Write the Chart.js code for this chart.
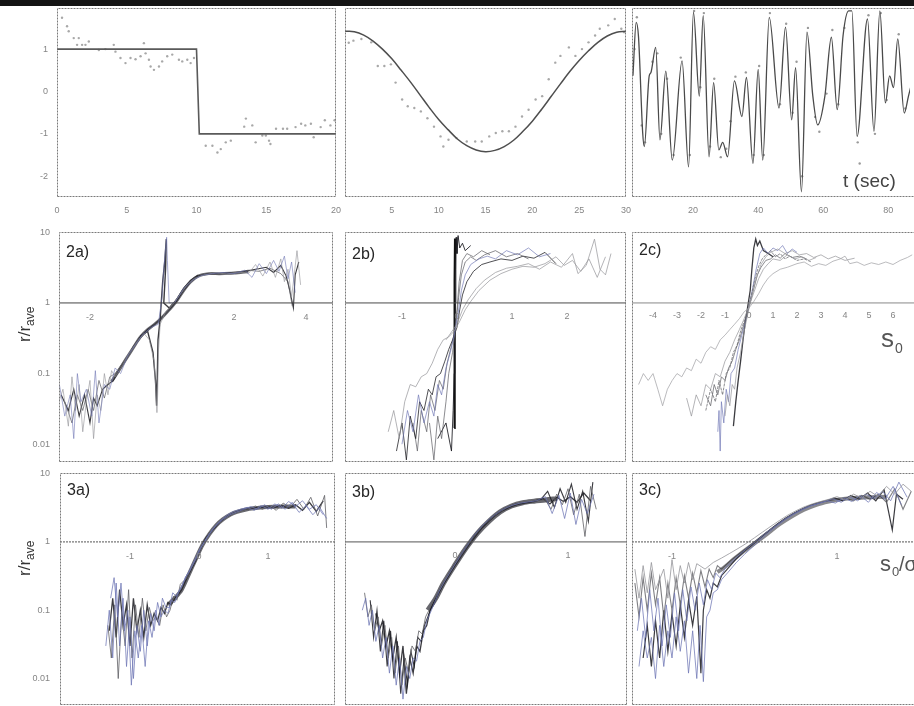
<!DOCTYPE html>
<html><head><meta charset="utf-8">
<script src="https://cdn.jsdelivr.net/npm/chart.js@4.4.1/dist/chart.umd.min.js"></script>
<style>
body{margin:0;background:#fff;width:914px;height:706px;overflow:hidden;position:relative;font-family:"Liberation Sans",Arial,sans-serif}
canvas{position:absolute;left:0;top:0}
#bar{position:absolute;left:0;top:0;width:914px;height:6px;background:#141414}
</style></head><body>
<div id="bar"></div>
<canvas id="c1a" width="914" height="706"></canvas>
<canvas id="c1b" width="914" height="706"></canvas>
<canvas id="c1c" width="914" height="706"></canvas>
<canvas id="c2a" width="914" height="706"></canvas>
<canvas id="c2b" width="914" height="706"></canvas>
<canvas id="c2c" width="914" height="706"></canvas>
<canvas id="c3a" width="914" height="706"></canvas>
<canvas id="c3b" width="914" height="706"></canvas>
<canvas id="c3c" width="914" height="706"></canvas>
<script>
// ---------- tick labels ----------
const row1YTicks = [1, 0, -1, -2];
const p1aXTicks = [0, 5, 10, 15, 20];
const p1bXTicks = [5, 10, 15, 20, 25, 30];
const p1cXTicks = [20, 40, 60, 80];
const logTickVals = [10, 1, 0.1, 0.01];
const logTickLabels = ["10", "1", "0.1", "0.01"];
const p2aXTicks = [-2, 2, 4];
const p2bXTicks = [-1, 0, 1, 2];
const p2cXTicks = [-4, -3, -2, -1, 0, 1, 2, 3, 4, 5, 6];
const p3aXTicks = [-1, 0, 1];
const p3bXTicks = [0, 1];
const p3cXTicks = [-1, 1];

// ---------- row 1 ----------
const stepLine = [[0,1],[10,1],[10.2,-1],[20,-1]];
const stepDots = [[0.36,1.74],[0.72,1.54],[0.84,1.42],[1.2,1.26],[1.44,1.10],[1.56,1.26],[1.8,1.10],[2.04,1.10],[2.28,1.18],[3.0,0.98],[3.47,1.0],[4.07,1.10],[4.19,0.94],[4.55,0.79],[4.91,0.67],[5.27,0.79],[5.63,0.76],[5.99,0.83],[6.23,1.14],[6.35,0.90],[6.59,0.75],[6.71,0.59],[6.95,0.51],[7.31,0.59],[7.54,0.71],[7.9,0.83],[8.26,0.87],[8.74,0.75],[8.98,0.71],[9.34,0.75],[9.58,0.67],[9.82,0.79],
 [10.66,-1.28],[11.14,-1.28],[11.5,-1.44],[11.74,-1.36],[12.1,-1.2],[12.46,-1.16],[13.42,-0.83],[13.54,-0.64],[14.0,-0.80],[14.24,-1.2],[14.72,-1.04],[14.97,-1.04],[15.2,-1.16],[15.3,-1.24],[15.7,-0.88],[16.2,-0.88],[16.5,-0.88],[17.1,-0.84],[17.5,-0.76],[17.8,-0.80],[18.2,-0.76],[18.4,-1.08],[18.9,-0.84],[19.2,-0.68],[19.6,-0.80],[19.9,-0.68]];
const cosLine = [[0,1.42],[1,1.41],[2,1.33],[3,1.19],[4,1.0],[5,0.77],[6,0.5],[7,0.22],[8,-0.08],[9,-0.38],[10,-0.66],[11,-0.9],[12,-1.12],[13,-1.28],[14,-1.38],[15,-1.42],[16,-1.39],[17,-1.3],[18,-1.15],[19,-0.94],[20,-0.7],[21,-0.42],[22,-0.12],[23,0.18],[24,0.47],[25,0.73],[26,0.96],[27,1.16],[28,1.31],[29,1.4],[30,1.42]];
const cosDots = [[0.4,1.15],[0.9,1.2],[1.75,1.24],[2.8,1.16],[3.5,0.6],[4.2,0.6],[4.9,0.64],[5.4,0.21],[6.1,-0.19],[6.7,-0.35],[7.4,-0.39],[8.1,-0.47],[8.8,-0.63],[9.5,-0.83],[10.2,-1.06],[10.5,-1.3],[11.05,-1.14],[11.9,-1.1],[13,-1.18],[13.9,-1.18],[14.6,-1.18],[15.4,-1.06],[16.1,-0.98],[16.8,-0.94],[17.5,-0.94],[18.2,-0.83],[18.9,-0.59],[19.6,-0.43],[20.35,-0.19],[21.05,-0.11],[21.75,0.29],[22.45,0.68],[23,0.84],[23.9,1.04],[24.6,0.84],[25.3,1.0],[26,1.16],[26.7,1.32],[27.2,1.48],[28.1,1.56],[28.8,1.71],[29.5,1.48],[29.8,1.4]];
const sigLine = [[1.5,0.37],[2.5,1.63],[3.2,1.3],[4.5,-0.98],[5.0,-1.30],[6.5,0.37],[7.0,0.44],[8.5,1.04],[9.8,-1.14],[11.6,0.48],[13.6,-1.62],[16.6,0.72],[18.6,-1.78],[20.1,1.87],[21.9,-0.11],[23.1,1.79],[24.9,-1.54],[26.3,0.21],[27.9,-1.38],[29.1,-1.20],[30.6,-1.54],[32.7,0.25],[35.0,-0.59],[36.4,0.33],[38.4,-1.70],[40.0,0.52],[41.4,-1.62],[43.4,1.75],[46.4,-0.39],[48.4,1.52],[50.3,-0.67],[51.5,0.56],[53.3,-2.37],[55.0,1.40],[56.8,-0.11],[58.3,-0.79],[60.5,-0.11],[62.5,1.28],[64.3,-0.43],[66.1,1.32],[67.8,1.9],[68.8,1.9],[70.4,-1.06],[73.6,1.71],[75.6,-0.94],[77.4,1.9],[79.1,-0.27],[80.4,0.37],[81.6,0.09],[82.9,1.24],[84.9,-0.51],[86.2,-0.11],[87.5,0.3]];
const sigDots = [[2,1.0],[2.7,1.75],[4.2,-0.8],[5.2,-1.2],[7.5,0.7],[9,0.9],[10.2,-1.0],[12,0.3],[14,-1.5],[16.2,0.8],[19,-1.5],[20.3,1.9],[22.2,0.1],[23.3,1.85],[25.2,-1.3],[26.5,0.3],[28.5,-1.55],[30.2,-1.35],[31.5,-0.7],[33,0.35],[36.2,0.45],[38.6,-1.5],[40.3,0.6],[41.7,-1.5],[43.6,1.85],[46.7,-0.3],[48.6,1.6],[50.6,-0.5],[51.8,0.7],[53.5,-2.0],[55.3,1.5],[57.5,-0.6],[58.8,-0.95],[61,-0.05],[62.8,1.45],[64.6,-0.3],[66.5,1.5],[70.6,-1.2],[71.2,-1.7],[73.9,1.8],[75.9,-1.0],[77.7,1.85],[79.5,-0.2],[83.2,1.35],[85.2,-0.4]];

// ---------- row 2a ----------
const a2core = [[-1.4,0.077],[-1.2,0.11],[-1.0,0.16],[-0.8,0.23],[-0.6,0.33],[-0.4,0.42],[-0.2,0.5],[0,0.62],[0.2,0.8],[0.4,1.05],[0.6,1.5],[0.8,2.0],[1.0,2.4],[1.3,2.6],[1.6,2.6],[2.0,2.65],[2.4,2.8]];
const a2s1 = [[-2.8,0.05],[-2.6,0.03],[-2.45,0.06],[-2.3,0.025],[-2.15,0.05],[-2.0,0.02],[-1.9,0.045],[-1.8,0.035],[-1.65,0.06],[-1.5,0.07],[-1.35,0.08],[-1.2,0.11],[-1.0,0.16],[-0.8,0.24],[-0.6,0.33],[-0.4,0.42],[-0.2,0.5],[0,0.62],[0.2,0.8],[0.4,1.05],[0.6,1.5],[0.8,2.0],[1.0,2.4],[1.3,2.6],[1.6,2.6],[2.0,2.7],[2.3,2.8],[2.6,3.0],[2.9,3.2],[3.1,2.7],[3.3,3.4],[3.45,2.4],[3.55,1.5],[3.65,0.85],[3.7,2.5],[3.8,3.8]];
const a2s2 = [[-2.9,0.035],[-2.75,0.06],[-2.6,0.018],[-2.5,0.09],[-2.4,0.03],[-2.3,0.07],[-2.2,0.015],[-2.1,0.04],[-2.0,0.08],[-1.9,0.012],[-1.8,0.05],[-1.7,0.03],[-1.6,0.1],[-1.5,0.05],[-1.4,0.11],[-1.3,0.09],[-1.1,0.13],[-0.9,0.2],[-0.7,0.28],[-0.5,0.37],[-0.35,0.3],[-0.22,0.15],[-0.17,0.06],[-0.14,0.028],[-0.12,0.05],[-0.1,0.2],[-0.05,0.5],[0.1,0.75],[0.3,0.95],[0.5,1.3],[0.7,1.8],[0.9,2.2],[1.2,2.5],[1.5,2.7],[1.8,2.55],[2.1,2.75],[2.4,2.6],[2.6,3.5],[2.8,2.4],[3.0,3.8],[3.15,2.3],[3.3,4.2],[3.4,2.0],[3.5,3.0],[3.6,1.2],[3.75,5.5],[3.85,1.8]];
const a2s3 = [[-2.85,0.07],[-2.7,0.025],[-2.55,0.05],[-2.45,0.012],[-2.35,0.1],[-2.25,0.04],[-2.1,0.06],[-1.95,0.025],[-1.85,0.11],[-1.75,0.02],[-1.6,0.07],[-1.45,0.06],[-1.3,0.12],[-1.15,0.1],[-0.95,0.18],[-0.75,0.25],[-0.55,0.35],[-0.3,0.45],[-0.1,0.5],[0,1.2],[0.05,3],[0.1,6],[0.13,8.5],[0.15,4],[0.2,1],[0.35,1.0],[0.6,1.6],[0.85,2.1],[1.1,2.45],[1.4,2.6],[1.7,2.7],[2.0,2.6],[2.3,2.9],[2.5,2.3],[2.7,3.6],[2.9,2.6],[3.1,4.0],[3.25,2.8],[3.4,4.6],[3.5,2.2],[3.6,3.8],[3.7,1.4]];
const a2s4 = [[-0.6,0.34],[-0.4,0.4],[-0.25,0.2],[-0.18,0.08],[-0.15,0.035],[-0.13,0.09],[-0.11,0.3],[-0.05,0.6],[0.02,2],[0.08,4],[0.12,8],[0.1,3],[0.05,1.0],[0.2,0.85],[0.4,1.1],[0.6,1.6],[0.8,2.1],[1.0,2.45]];
const a2s5 = [[-2.7,0.04],[-2.5,0.02],[-2.35,0.05],[-2.2,0.03],[-2.05,0.06],[-1.9,0.03],[-1.75,0.08],[-1.6,0.045],[-1.45,0.09],[-1.3,0.1],[-1.1,0.14],[-0.9,0.19],[-0.7,0.27],[-0.5,0.36],[-0.3,0.44],[-0.1,0.55],[0.1,0.7],[0.3,0.95],[0.5,1.35],[0.7,1.85],[0.9,2.25],[1.2,2.55],[1.6,2.6],[2.0,2.6],[2.4,2.9],[2.7,2.8],[3.0,3.1],[3.3,2.6],[3.5,2.0],[3.62,0.9]];

// ---------- row 2b ----------
const b2s1 = [[-1.25,0.015],[-1.15,0.03],[-1.05,0.012],[-0.95,0.04],[-0.85,0.07],[-0.75,0.065],[-0.65,0.09],[-0.55,0.1],[-0.45,0.14],[-0.35,0.22],[-0.25,0.3],[-0.15,0.33],[-0.05,0.4],[0.05,0.55],[0.15,0.8],[0.25,1.05],[0.4,1.5],[0.6,2.1],[0.8,2.6],[1.0,3.0],[1.2,3.3],[1.4,3.2],[1.6,3.6],[1.8,4.5],[1.95,3.4],[2.1,4.0],[2.25,2.8],[2.4,4.2],[2.55,2.3],[2.7,4.5]];
const b2s2 = [[-1.1,0.008],[-1.0,0.02],[-0.92,0.006],[-0.85,0.025],[-0.75,0.012],[-0.68,0.04],[-0.6,0.03],[-0.52,0.06],[-0.45,0.05],[-0.38,0.09],[-0.3,0.1],[-0.22,0.15],[-0.15,0.22],[-0.08,0.3],[0,0.45],[0.05,0.8],[0.1,1.3],[0.18,2.0],[0.3,2.8],[0.45,3.5],[0.6,3.8],[0.8,4.2],[1.0,4.0],[1.2,4.6],[1.4,4.3],[1.6,5.2],[1.8,3.6]];
const b2s3 = [[-1.0,0.01],[-0.9,0.03],[-0.8,0.015],[-0.7,0.05],[-0.6,0.02],[-0.5,0.04],[-0.42,0.025],[-0.35,0.07],[-0.28,0.05],[-0.2,0.12],[-0.12,0.2],[-0.05,0.35],[0.02,0.7],[0.08,1.5],[0.15,2.5],[0.25,3.5],[0.4,4.2],[0.55,4.6],[0.7,4.2],[0.9,5.5],[1.1,4.8],[1.3,6.0],[1.5,4.5],[1.7,5.0]];
const b2s4 = [[-0.8,0.02],[-0.72,0.008],[-0.65,0.03],[-0.55,0.015],[-0.48,0.05],[-0.4,0.03],[-0.32,0.08],[-0.25,0.06],[-0.18,0.14],[-0.1,0.25],[-0.04,0.4],[0,0.8],[0.04,2.0],[0.1,4.0],[0.18,5.0],[0.3,4.5],[0.45,5.5],[0.6,4.8]];
const b2s5 = [[-0.35,0.012],[-0.2,0.02],[-0.1,0.008],[-0.07,0.03],[-0.05,0.1],[-0.04,0.3],[-0.03,1.0],[-0.02,3.0],[-0.015,8.5],[0,5],[0.02,9],[0.05,6],[0.1,7],[0.15,5.5],[0.25,6.5]];
const b2s6 = [[-0.5,0.02],[-0.42,0.006],[-0.35,0.025],[-0.28,0.012],[-0.2,0.04],[-0.15,0.1],[-0.08,0.2],[-0.02,0.5],[0.03,1.2],[0.08,2.5],[0.15,3.8],[0.25,4.5],[0.35,4.0],[0.5,4.8],[0.7,5.5],[0.9,4.5],[1.1,5.0],[1.3,4.2]];
const b2s7 = [[-0.2,0.3],[0,0.5],[0.1,0.8],[0.2,1.1],[0.35,1.6],[0.5,2.1],[0.7,2.7],[0.9,3.1],[1.1,3.3],[1.3,3.6],[1.5,3.0],[1.7,3.8],[1.9,3.2],[2.1,5.0],[2.2,2.6],[2.35,3.4],[2.5,8.0],[2.6,3.0],[2.7,2.5],[2.8,5.0]];
const b2s8 = [[-0.05,0.017],[-0.045,0.3],[-0.04,2],[-0.035,8.2]];

// ---------- row 2c ----------
const c2s1 = [[-4.6,0.07],[-4.4,0.1],[-4.2,0.08],[-4.0,0.1],[-3.8,0.06],[-3.6,0.035],[-3.4,0.06],[-3.2,0.08],[-3.0,0.1],[-2.8,0.09],[-2.6,0.12],[-2.4,0.11],[-2.2,0.16],[-2.0,0.14],[-1.8,0.2],[-1.6,0.24],[-1.4,0.22],[-1.2,0.3],[-1.0,0.35],[-0.8,0.42],[-0.6,0.5],[-0.4,0.6],[-0.2,0.75],[0,0.85],[0.2,1.05],[0.4,1.35],[0.6,1.8],[0.8,2.25],[1.0,2.6],[1.3,3.0],[1.6,3.2],[2.0,3.6],[2.3,3.8],[2.6,3.3],[2.9,3.6],[3.2,3.4],[3.5,3.9],[3.8,4.2],[4.0,4.6],[4.2,3.6],[4.5,3.8],[4.8,3.4],[5.1,3.7],[5.4,3.5],[5.7,3.8],[6.0,3.5],[6.3,4.0],[6.6,4.4],[6.8,4.8]];
const c2s2 = [[-2.6,0.045],[-2.4,0.025],[-2.2,0.05],[-2.0,0.035],[-1.8,0.07],[-1.6,0.06],[-1.4,0.1],[-1.2,0.09],[-1.0,0.15],[-0.8,0.2],[-0.6,0.3],[-0.4,0.42],[-0.2,0.6],[0,0.9],[0.2,1.4],[0.4,2.2],[0.6,3.0],[0.8,3.6],[1.0,4.2],[1.3,4.0],[1.6,4.8],[1.9,4.2],[2.2,4.5],[2.5,4.0],[2.8,4.4]];
const c2s3 = [[-1.8,0.03],[-1.6,0.06],[-1.4,0.04],[-1.25,0.08],[-1.1,0.05],[-0.95,0.1],[-0.8,0.12],[-0.65,0.2],[-0.5,0.25],[-0.35,0.4],[-0.2,0.55],[-0.05,0.8],[0.1,1.3],[0.25,2.2],[0.4,3.3],[0.55,4.2],[0.7,4.8],[0.9,5.5],[1.1,4.5],[1.3,5.0],[1.5,4.2],[1.7,4.6],[2.0,4.0],[2.3,4.2],[2.6,3.8]];
const c2s4 = [[-1.3,0.015],[-1.25,0.03],[-1.2,0.008],[-1.15,0.04],[-1.05,0.02],[-0.95,0.06],[-0.85,0.04],[-0.75,0.1],[-0.6,0.12],[-0.45,0.22],[-0.3,0.35],[-0.15,0.55],[0,0.9],[0.15,1.6],[0.3,3.0],[0.45,5.0],[0.6,6.0],[0.8,5.0],[1.0,6.0],[1.2,5.5],[1.4,6.5],[1.6,5.0],[1.8,5.8],[2.0,5.2]];
const c2s5 = [[-0.65,0.018],[-0.55,0.04],[-0.45,0.08],[-0.35,0.15],[-0.25,0.3],[-0.15,0.55],[-0.05,0.9],[0.05,1.5],[0.12,3.0],[0.2,6.0],[0.28,8.0],[0.35,6.5],[0.45,7.5],[0.6,5.5],[0.8,5.0],[1.0,4.5]];
const c2s6 = [[-1.0,0.025],[-0.9,0.05],[-0.8,0.035],[-0.7,0.07],[-0.6,0.06],[-0.5,0.12],[-0.35,0.2],[-0.2,0.4],[-0.05,0.7],[0.1,1.2],[0.3,2.2],[0.5,3.5],[0.7,4.5],[0.9,5.2],[1.2,5.8],[1.5,5.0],[1.8,5.5],[2.1,4.8],[2.4,5.0],[2.7,4.4],[3.0,4.8],[3.3,4.2],[3.6,4.6],[4.0,4.0],[4.4,4.3]];
const c2s7 = [[-1.8,0.05],[-1.6,0.035],[-1.45,0.07],[-1.3,0.05],[-1.15,0.09],[-1.0,0.08],[-0.85,0.12],[-0.7,0.15],[-0.55,0.22],[-0.4,0.3],[-0.25,0.45],[-0.1,0.65],[0.05,1.0],[0.2,1.6],[0.35,2.5],[0.5,3.2],[0.7,4.0],[0.9,4.2],[1.1,4.8],[1.3,4.3],[1.5,5.0],[1.8,4.4],[2.1,4.6],[2.4,4.2]];

// ---------- row 3a ----------
const a3core = [[-0.45,0.12],[-0.35,0.15],[-0.25,0.2],[-0.15,0.33],[-0.05,0.55],[0.05,0.9],[0.15,1.3],[0.25,1.75],[0.35,2.15],[0.45,2.5],[0.55,2.75],[0.7,3.0],[0.85,3.15],[1.0,3.25],[1.2,3.3],[1.4,3.3]];
const a3s1 = [[-1.3,0.05],[-1.25,0.15],[-1.2,0.04],[-1.15,0.2],[-1.1,0.06],[-1.05,0.12],[-1.0,0.03],[-0.95,0.15],[-0.9,0.05],[-0.85,0.1],[-0.8,0.04],[-0.75,0.12],[-0.7,0.06],[-0.65,0.09],[-0.6,0.07],[-0.55,0.11],[-0.5,0.09],[-0.45,0.13],[-0.4,0.12],[-0.35,0.15],[-0.3,0.17],[-0.25,0.2],[-0.2,0.26],[-0.15,0.33],[-0.1,0.42],[-0.05,0.52],[0,0.7],[0.05,0.9],[0.1,1.15],[0.2,1.5],[0.3,1.95],[0.4,2.35],[0.5,2.65],[0.6,2.9],[0.7,3.05],[0.8,3.15],[0.9,3.2],[1.0,3.25],[1.1,3.2],[1.2,3.4],[1.3,3.1],[1.4,3.5],[1.5,2.9],[1.6,3.8],[1.7,2.8],[1.8,4.0]];
const a3s2 = [[-1.35,0.03],[-1.3,0.1],[-1.25,0.02],[-1.2,0.25],[-1.15,0.03],[-1.1,0.15],[-1.05,0.015],[-1.0,0.08],[-0.95,0.01],[-0.9,0.06],[-0.85,0.025],[-0.8,0.1],[-0.75,0.03],[-0.7,0.09],[-0.65,0.05],[-0.6,0.13],[-0.55,0.08],[-0.5,0.1],[-0.45,0.09],[-0.4,0.14],[-0.35,0.13],[-0.3,0.18],[-0.25,0.22],[-0.2,0.3],[-0.15,0.36],[-0.1,0.46],[-0.05,0.58],[0,0.75],[0.08,1.0],[0.15,1.3],[0.25,1.75],[0.35,2.15],[0.45,2.5],[0.55,2.75],[0.65,3.0],[0.75,3.3],[0.85,3.0],[0.95,3.5],[1.05,3.0],[1.15,3.6],[1.25,3.0],[1.35,3.8],[1.45,2.7],[1.55,3.4],[1.65,2.5],[1.75,3.2],[1.85,2.2]];
const a3s3 = [[-1.32,0.06],[-1.27,0.02],[-1.22,0.12],[-1.17,0.01],[-1.12,0.09],[-1.07,0.03],[-1.02,0.2],[-0.97,0.02],[-0.92,0.12],[-0.87,0.04],[-0.82,0.15],[-0.77,0.05],[-0.72,0.11],[-0.67,0.07],[-0.62,0.08],[-0.57,0.06],[-0.52,0.12],[-0.47,0.08],[-0.42,0.1],[-0.37,0.16],[-0.32,0.14],[-0.27,0.24],[-0.22,0.27],[-0.17,0.3],[-0.12,0.4],[-0.07,0.5],[-0.02,0.62],[0.04,0.85],[0.12,1.2],[0.22,1.65],[0.32,2.1],[0.42,2.4],[0.52,2.7],[0.62,2.85],[0.72,3.1],[0.82,3.35],[0.92,3.0],[1.02,3.4],[1.12,2.9],[1.22,3.7],[1.32,3.2],[1.42,4.2],[1.52,3.0],[1.62,4.5],[1.72,2.4],[1.82,4.8],[1.85,1.6]];
const a3s4 = [[-1.28,0.15],[-1.23,0.3],[-1.18,0.08],[-1.13,0.25],[-1.08,0.05],[-1.03,0.1],[-0.98,0.008],[-0.93,0.05],[-0.88,0.02],[-0.83,0.06],[-0.78,0.015],[-0.73,0.07],[-0.68,0.04],[-0.63,0.1],[-0.58,0.06],[-0.53,0.15],[-0.48,0.11],[-0.43,0.11],[-0.38,0.18],[-0.33,0.16],[-0.28,0.2],[-0.23,0.25],[-0.18,0.32],[-0.13,0.38],[-0.08,0.48],[-0.03,0.6],[0.02,0.8],[0.1,1.1],[0.2,1.55],[0.3,2.0],[0.4,2.45],[0.5,2.8],[0.6,3.0],[0.7,3.2],[0.8,2.9],[0.9,3.4],[1.0,3.0],[1.1,3.6],[1.2,3.1],[1.3,3.9],[1.4,3.3],[1.5,4.0],[1.6,3.0],[1.7,3.5],[1.8,2.5]];

// ---------- row 3b ----------
const b3core = [[-0.24,0.1],[-0.17,0.15],[-0.1,0.25],[0,0.46],[0.1,0.82],[0.2,1.35],[0.3,2.0],[0.4,2.75],[0.5,3.35],[0.6,3.75],[0.7,3.95],[0.8,4.1],[0.9,4.3]];
const b3s1 = [[-0.8,0.18],[-0.77,0.08],[-0.74,0.12],[-0.71,0.05],[-0.68,0.08],[-0.65,0.03],[-0.62,0.06],[-0.59,0.02],[-0.56,0.04],[-0.53,0.012],[-0.5,0.03],[-0.47,0.008],[-0.44,0.02],[-0.41,0.012],[-0.38,0.03],[-0.35,0.025],[-0.32,0.05],[-0.29,0.045],[-0.26,0.08],[-0.23,0.1],[-0.2,0.13],[-0.15,0.18],[-0.1,0.25],[-0.05,0.34],[0,0.47],[0.05,0.62],[0.1,0.82],[0.15,1.1],[0.2,1.4],[0.25,1.75],[0.3,2.05],[0.35,2.4],[0.4,2.75],[0.45,3.1],[0.5,3.4],[0.55,3.6],[0.6,3.8],[0.7,4.0],[0.8,4.1],[0.85,3.0],[0.9,5.0],[0.95,3.5],[1.0,6.0],[1.05,2.5],[1.1,5.0],[1.15,1.2],[1.2,6.5],[1.25,3.0]];
const b3s2 = [[-0.75,0.14],[-0.72,0.04],[-0.69,0.1],[-0.66,0.025],[-0.63,0.07],[-0.6,0.015],[-0.57,0.05],[-0.54,0.01],[-0.51,0.035],[-0.48,0.006],[-0.45,0.02],[-0.42,0.008],[-0.39,0.025],[-0.36,0.015],[-0.33,0.04],[-0.3,0.035],[-0.27,0.06],[-0.24,0.08],[-0.21,0.11],[-0.17,0.15],[-0.12,0.22],[-0.07,0.3],[-0.02,0.42],[0.03,0.56],[0.08,0.75],[0.13,1.0],[0.18,1.3],[0.23,1.6],[0.28,1.95],[0.33,2.3],[0.38,2.65],[0.43,3.0],[0.48,3.3],[0.53,3.55],[0.6,3.75],[0.68,3.9],[0.76,4.2],[0.82,5.5],[0.88,3.2],[0.93,6.0],[0.98,3.8],[1.03,7.0],[1.08,3.0],[1.13,5.5],[1.18,2.0],[1.22,7.5]];
const b3s3 = [[-0.82,0.1],[-0.79,0.15],[-0.76,0.06],[-0.73,0.1],[-0.7,0.035],[-0.67,0.06],[-0.64,0.02],[-0.61,0.04],[-0.58,0.012],[-0.55,0.03],[-0.52,0.008],[-0.49,0.02],[-0.46,0.005],[-0.43,0.015],[-0.4,0.01],[-0.37,0.02],[-0.34,0.018],[-0.31,0.035],[-0.28,0.04],[-0.25,0.07],[-0.22,0.09],[-0.18,0.13],[-0.14,0.19],[-0.09,0.27],[-0.04,0.37],[0.01,0.5],[0.06,0.68],[0.11,0.9],[0.16,1.2],[0.21,1.5],[0.26,1.85],[0.31,2.2],[0.36,2.55],[0.41,2.9],[0.46,3.2],[0.52,3.5],[0.58,3.7],[0.65,3.85],[0.72,4.0],[0.8,4.6],[0.86,2.6],[0.92,4.8],[0.97,2.2],[1.02,5.2],[1.07,1.8],[1.12,4.2],[1.17,2.6],[1.23,5.0]];
const b3s4 = [[-0.7,0.09],[-0.67,0.05],[-0.64,0.07],[-0.61,0.03],[-0.58,0.05],[-0.55,0.02],[-0.52,0.04],[-0.49,0.012],[-0.46,0.03],[-0.43,0.006],[-0.4,0.02],[-0.37,0.012],[-0.34,0.03],[-0.31,0.025],[-0.28,0.05],[-0.25,0.06],[-0.22,0.1],[-0.19,0.12],[-0.15,0.17],[-0.1,0.24],[-0.05,0.33],[0,0.45],[0.06,0.63],[0.12,0.88],[0.18,1.2],[0.24,1.6],[0.3,2.0],[0.36,2.45],[0.42,2.85],[0.48,3.2],[0.55,3.5],[0.62,3.7],[0.7,3.9],[0.78,4.3],[0.84,3.6],[0.9,4.5],[0.96,3.9],[1.02,4.6],[1.08,3.8],[1.14,5.2],[1.2,4.0]];

// ---------- row 3c ----------
const c3core = [[-0.45,0.36],[-0.35,0.44],[-0.25,0.56],[-0.15,0.7],[0,0.95],[0.15,1.3],[0.3,1.8],[0.45,2.35],[0.6,2.95],[0.75,3.5],[0.9,3.9],[1.05,4.2],[1.2,4.4],[1.4,4.5],[1.6,4.6]];
const c3s1 = [[-1.45,0.25],[-1.4,0.08],[-1.35,0.3],[-1.3,0.1],[-1.25,0.35],[-1.2,0.12],[-1.15,0.3],[-1.1,0.08],[-1.05,0.25],[-1.0,0.1],[-0.95,0.3],[-0.9,0.12],[-0.85,0.32],[-0.8,0.15],[-0.75,0.35],[-0.7,0.18],[-0.65,0.38],[-0.6,0.22],[-0.55,0.4],[-0.5,0.3],[-0.45,0.45],[-0.4,0.4],[-0.3,0.52],[-0.2,0.65],[-0.1,0.8],[0,1.0],[0.1,1.25],[0.2,1.55],[0.3,1.9],[0.4,2.3],[0.5,2.7],[0.6,3.1],[0.7,3.5],[0.8,3.8],[0.9,4.0],[1.0,4.2],[1.1,4.4],[1.2,4.0],[1.3,4.8],[1.4,4.2],[1.5,5.0],[1.6,3.8],[1.7,6.0],[1.8,3.0],[1.9,5.5]];
const c3s2 = [[-1.42,0.05],[-1.37,0.15],[-1.32,0.04],[-1.27,0.2],[-1.22,0.05],[-1.17,0.15],[-1.12,0.03],[-1.07,0.12],[-1.02,0.04],[-0.97,0.18],[-0.92,0.05],[-0.87,0.2],[-0.82,0.07],[-0.77,0.22],[-0.72,0.1],[-0.67,0.25],[-0.62,0.12],[-0.57,0.28],[-0.52,0.2],[-0.47,0.35],[-0.42,0.3],[-0.35,0.42],[-0.25,0.55],[-0.15,0.7],[-0.05,0.88],[0.05,1.1],[0.15,1.4],[0.25,1.7],[0.35,2.1],[0.45,2.5],[0.55,2.9],[0.65,3.3],[0.75,3.6],[0.85,3.9],[0.95,4.3],[1.05,3.8],[1.15,4.6],[1.25,4.0],[1.35,5.0],[1.45,4.3],[1.55,5.5],[1.65,4.0],[1.75,7.5],[1.85,4.5]];
const c3s3 = [[-1.35,0.02],[-1.3,0.06],[-1.25,0.015],[-1.2,0.07],[-1.15,0.02],[-1.1,0.1],[-1.05,0.025],[-1.0,0.09],[-0.95,0.03],[-0.9,0.12],[-0.85,0.04],[-0.8,0.14],[-0.75,0.06],[-0.7,0.16],[-0.65,0.012],[-0.62,0.1],[-0.58,0.2],[-0.54,0.15],[-0.5,0.25],[-0.45,0.22],[-0.4,0.32],[-0.33,0.4],[-0.23,0.55],[-0.13,0.72],[-0.03,0.9],[0.07,1.15],[0.17,1.45],[0.27,1.8],[0.37,2.2],[0.47,2.6],[0.57,3.0],[0.67,3.4],[0.77,3.7],[0.87,4.0],[0.97,4.4],[1.07,4.0],[1.17,4.8],[1.27,4.2],[1.37,5.2],[1.47,4.0],[1.57,5.8],[1.67,1.5],[1.72,5.0],[1.8,4.2]];
const c3s4 = [[-1.45,0.4],[-1.4,0.15],[-1.35,0.45],[-1.3,0.18],[-1.25,0.5],[-1.2,0.2],[-1.1,0.4],[-1.05,0.15],[-1.0,0.55],[-0.95,0.2],[-0.9,0.45],[-0.85,0.25],[-0.8,0.5],[-0.75,0.28],[-0.7,0.48],[-0.6,0.4],[-0.5,0.5],[-0.4,0.58],[-0.3,0.68],[-0.2,0.8],[-0.1,0.95],[0,1.15],[0.1,1.4],[0.2,1.7],[0.3,2.05],[0.4,2.45],[0.5,2.85],[0.6,3.25],[0.7,3.6],[0.8,3.9],[0.9,4.2],[1.0,4.6],[1.1,4.1],[1.2,5.0],[1.3,4.4],[1.4,5.5],[1.5,4.6],[1.6,6.5],[1.7,5.0],[1.8,7.0],[1.9,5.5]];
const c3s5 = [[-1.4,0.015],[-1.35,0.05],[-1.3,0.02],[-1.25,0.04],[-1.2,0.01],[-1.15,0.06],[-1.1,0.015],[-1.05,0.05],[-1.0,0.02],[-0.95,0.08],[-0.9,0.025],[-0.85,0.07],[-0.8,0.012],[-0.75,0.05],[-0.7,0.01],[-0.66,0.06],[-0.62,0.009],[-0.58,0.08],[-0.54,0.1],[-0.5,0.18],[-0.45,0.2],[-0.4,0.28],[-0.32,0.36],[-0.22,0.5],[-0.12,0.66],[-0.02,0.85],[0.08,1.1],[0.18,1.4],[0.28,1.75],[0.38,2.15],[0.48,2.55],[0.58,2.95],[0.68,3.35],[0.78,3.65],[0.88,4.0],[0.98,3.7],[1.08,4.4],[1.18,3.9],[1.28,4.8],[1.38,3.8],[1.48,5.3],[1.58,4.2],[1.68,6.5],[1.78,3.5]];

// ---------- helpers ----------
const FONT = '"Liberation Sans", Arial, sans-serif';
const K = 'rgba(25,25,30,0.85)', G = 'rgba(95,95,100,0.8)', B = 'rgba(110,118,180,0.75)', L = 'rgba(150,150,155,0.8)';
const CORE = 'rgba(40,40,48,0.7)';
const pts = a => a.map(p => ({x: p[0], y: p[1]}));
const line = (a, color, w, extra) => Object.assign({data: pts(a), borderColor: color, borderWidth: w, pointRadius: 0, fill: false, tension: 0}, extra || {});
const dots = (a, color) => ({data: pts(a), showLine: false, pointRadius: 1.2, pointBackgroundColor: color, pointBorderWidth: 0, borderColor: color});
const W = 914, H = 706;

function frame(c, a, noRight) {
  c.strokeStyle = '#7a7a7a'; c.lineWidth = 1; c.setLineDash([2, 1]);
  c.beginPath();
  c.moveTo(a.left + 0.5, a.bottom - 0.5); c.lineTo(a.left + 0.5, a.top + 0.5); c.lineTo(noRight ? W : a.right - 0.5, a.top + 0.5);
  if (!noRight) c.lineTo(a.right - 0.5, a.bottom - 0.5);
  c.moveTo(a.left + 0.5, a.bottom - 0.5); c.lineTo(noRight ? W : a.right - 0.5, a.bottom - 0.5);
  c.stroke(); c.setLineDash([]);
}
function tickText(c, size) { c.font = size + 'px ' + FONT; c.fillStyle = '#858585'; }
function xTicks(c, ch, vals, y) {
  tickText(c, 9); c.textAlign = 'center'; c.textBaseline = 'middle';
  vals.forEach(v => c.fillText(String(v), ch.scales.x.getPixelForValue(v), y));
}
function yTicks(c, ch, vals, labels, xr) {
  tickText(c, 9); c.textAlign = 'right'; c.textBaseline = 'middle';
  vals.forEach((v, i) => c.fillText(labels ? labels[i] : String(v), xr, ch.scales.y.getPixelForValue(v)));
}
function panelLabel(c, a, txt, dy) {
  c.font = '16px ' + FONT; c.fillStyle = '#262626'; c.textAlign = 'left'; c.textBaseline = 'alphabetic';
  c.fillText(txt, a.left + 7, a.top + dy);
}
function yTitle(c, x, y) {
  c.save(); c.translate(x, y); c.rotate(-Math.PI / 2);
  c.fillStyle = '#333'; c.textAlign = 'left'; c.textBaseline = 'alphabetic';
  c.font = '17px ' + FONT; c.fillText('r/r', 0, 0);
  const w = c.measureText('r/r').width;
  c.font = '12px ' + FONT; c.fillText('ave', w, 4);
  c.restore();
}

function panel(id, box, xr, yr, datasets, decorate, noRight) {
  new Chart(document.getElementById(id), {
    type: 'line',
    data: {datasets},
    options: {
      responsive: false, animation: false, devicePixelRatio: 1,
      layout: {padding: {left: box[0], top: box[1], right: W - box[2], bottom: H - box[3]}},
      scales: {
        x: {type: 'linear', min: xr[0], max: xr[1], display: false},
        y: {type: yr[2] ? 'logarithmic' : 'linear', min: yr[0], max: yr[1], display: false}
      },
      plugins: {legend: {display: false}, tooltip: {enabled: false}},
      events: []
    },
    plugins: [{id: 'deco', afterDraw(ch) { const c = ch.ctx; c.save(); frame(c, ch.chartArea, noRight); decorate(c, ch, ch.chartArea); c.restore(); }}]
  });
}
const ROW1Y = [-2.49, 1.97, false];
const ROW2Y = [0.0056, 10.1, true];
const ROW3Y = [0.0041, 10.2, true];
const hline = (xr, color, dash) => line([[xr[0], 1], [xr[1], 1]], color, 1, dash ? {borderDash: dash} : {});

// ---------- row 1 ----------
panel('c1a', [57, 8, 336, 197], [0, 20], ROW1Y, [
  line(stepLine, '#5a5a5a', 1.6), dots(stepDots, '#a8a8a8')
], (c, ch, a) => { xTicks(c, ch, p1aXTicks, 211); yTicks(c, ch, row1YTicks, null, 48); });

panel('c1b', [345, 8, 626, 197], [0, 30], ROW1Y, [
  line(cosLine, '#4e4e4e', 1.5, {tension: 0.4}), dots(cosDots, '#a8a8a8')
], (c, ch, a) => { xTicks(c, ch, p1bXTicks, 211); });

const p1cRange = [1.21, 86.67];
panel('c1c', [632, 8, 914, 197], p1cRange, ROW1Y, [
  line(sigLine, '#4a4a4a', 1.3, {cubicInterpolationMode: 'monotone'}), dots(sigDots, '#9a9a9a')
], (c, ch, a) => {
  xTicks(c, ch, p1cXTicks, 211);
  c.font = '19px ' + FONT; c.fillStyle = '#444'; c.textAlign = 'left'; c.textBaseline = 'alphabetic';
  c.fillText('t (sec)', 843, 187);
}, true);

// ---------- row 2 ----------
const r2a = [-2.86, 4.75];
panel('c2a', [59, 232, 333, 462], r2a, ROW2Y, [
  hline(r2a, '#444'),
  line(a2s3, B, 0.8), line(a2s2, L, 0.8), line(a2s5, G, 0.9), line(a2core, CORE, 3, {tension: 0.3}),
  line(a2s1, K, 1.1), line(a2s4, K, 1.4)
], (c, ch, a) => {
  yTicks(c, ch, logTickVals, logTickLabels, 50);
  xTicks(c, ch, p2aXTicks, ch.scales.y.getPixelForValue(1) + 15);
  panelLabel(c, a, '2a)', 25);
  yTitle(c, 30, 342);
});

const r2b = [-2.036, 3.073];
panel('c2b', [345, 232, 626, 462], r2b, ROW2Y, [
  hline(r2b, '#4a4a4a'),
  line(b2s1, L, 0.9), line(b2s7, L, 0.9), line(b2s3, B, 0.9), line(b2s6, G, 0.9),
  line(b2s2, K, 0.9), line(b2s4, G, 0.9), line(b2s5, K, 1.0), line(b2s8, '#111', 2.2)
], (c, ch, a) => {
  xTicks(c, ch, p2bXTicks, ch.scales.y.getPixelForValue(1) + 14);
  panelLabel(c, a, '2b)', 27);
});

const r2c = [-4.875, 6.875];
panel('c2c', [632, 232, 914, 462], r2c, ROW2Y, [
  hline(r2c, '#888'),
  line(c2s1, 'rgba(165,165,170,0.85)', 0.9), line(c2s2, L, 0.9), line(c2s6, L, 0.9), line(c2s7, G, 0.9),
  line(c2s3, G, 0.9, {borderDash: [3, 1]}), line(c2s4, B, 0.9), line(c2s5, K, 1.3)
], (c, ch, a) => {
  xTicks(c, ch, p2cXTicks, ch.scales.y.getPixelForValue(1) + 13);
  panelLabel(c, a, '2c)', 23);
  c.fillStyle = '#555'; c.textAlign = 'left'; c.textBaseline = 'alphabetic';
  c.font = '26px ' + FONT; c.fillText('s', 881, 347);
  c.font = '14px ' + FONT; c.fillText('0', 895, 353);
}, true);

// ---------- row 3 ----------
const r3a = [-2.014, 1.971];
panel('c3a', [60, 473, 335, 705], r3a, ROW3Y, [
  hline(r3a, '#555', [2, 1]),
  line(a3s4, B, 1.0), line(a3s2, B, 1.0), line(a3s3, G, 1.0), line(a3core, CORE, 4, {tension: 0.3}), line(a3s1, K, 1.3)
], (c, ch, a) => {
  yTicks(c, ch, logTickVals, logTickLabels, 50);
  xTicks(c, ch, p3aXTicks, ch.scales.y.getPixelForValue(1) + 15);
  panelLabel(c, a, '3a)', 22);
  yTitle(c, 30, 576);
});

const r3b = [-0.973, 1.522];
panel('c3b', [345, 473, 627, 705], r3b, ROW3Y, [
  hline(r3b, '#555'),
  line(b3s3, B, 1.0), line(b3s1, G, 1.0), line(b3s2, K, 1.1), line(b3core, CORE, 5, {tension: 0.3}), line(b3s4, K, 1.3)
], (c, ch, a) => {
  xTicks(c, ch, p3bXTicks, ch.scales.y.getPixelForValue(1) + 14);
  panelLabel(c, a, '3b)', 24);
});

const r3c = [-1.485, 1.933];
panel('c3c', [632, 473, 914, 705], r3c, ROW3Y, [
  hline(r3c, '#555', [2, 1]),
  line(c3s4, L, 1.0), line(c3s2, B, 1.0), line(c3s5, B, 1.0), line(c3core, 'rgba(40,40,48,0.55)', 4, {tension: 0.3}),
  line(c3s1, G, 1.1), line(c3s3, K, 1.2)
], (c, ch, a) => {
  xTicks(c, ch, p3cXTicks, ch.scales.y.getPixelForValue(1) + 15);
  panelLabel(c, a, '3c)', 22);
  c.fillStyle = '#555'; c.textAlign = 'left'; c.textBaseline = 'alphabetic';
  c.font = '22px ' + FONT; c.fillText('s', 880, 571);
  c.font = '13px ' + FONT; c.fillText('0', 892, 576);
  c.font = '20px ' + FONT; c.fillText('/\u03c3', 899, 571);
}, true);
</script>
</body></html>
